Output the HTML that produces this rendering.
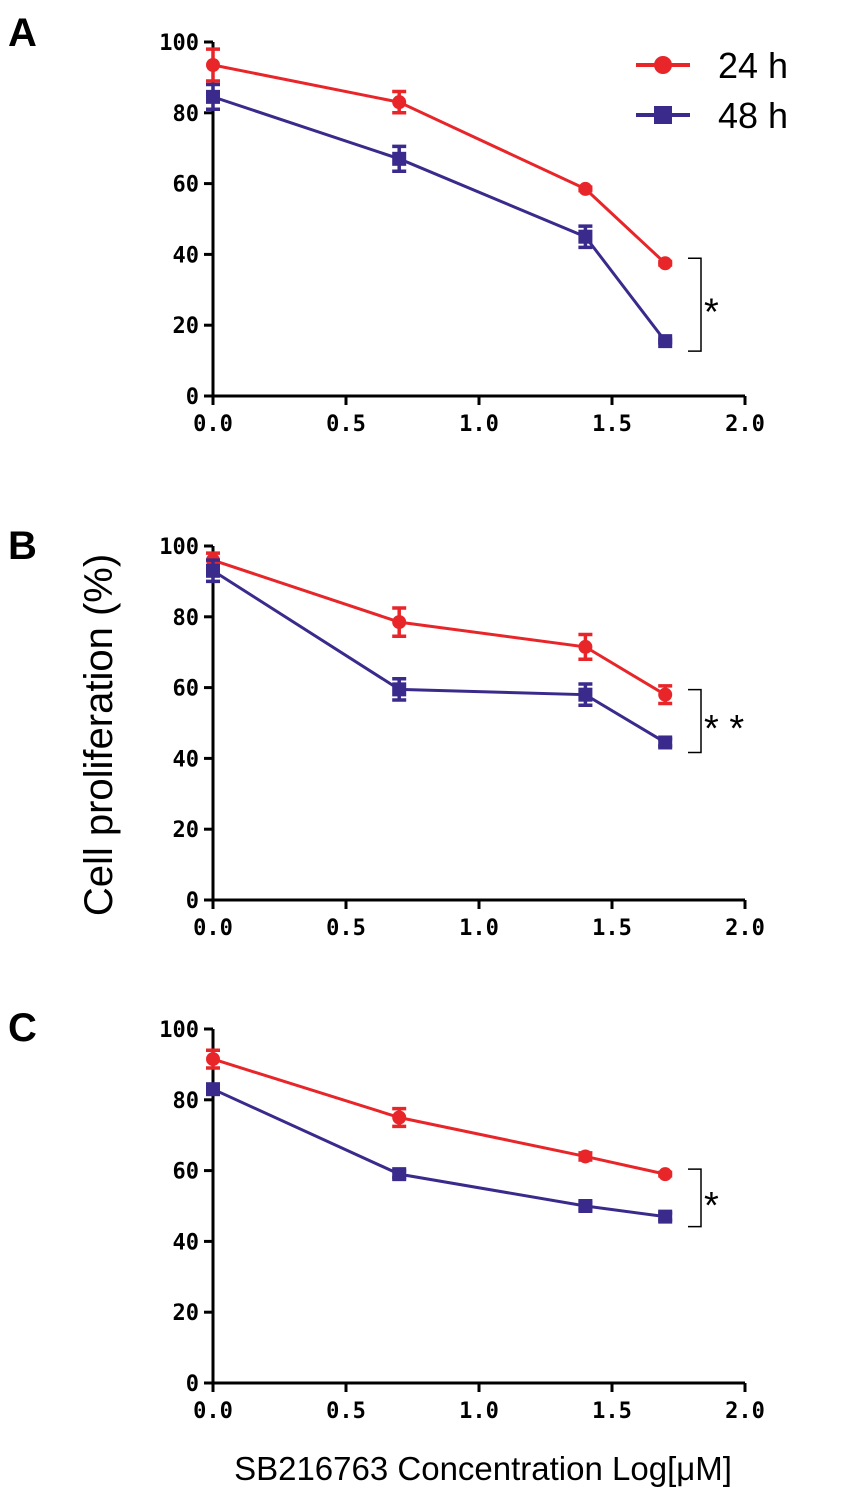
<!DOCTYPE html>
<html><head><meta charset="utf-8"><style>
body{margin:0;background:#fff;}
svg{display:block;font-family:"Liberation Sans",sans-serif;}
</style></head><body>
<svg id="chart" width="850" height="1500" viewBox="0 0 850 1500">
<text x="8" y="46" font-size="40" font-weight="bold">A</text>
<text x="8" y="559" font-size="40" font-weight="bold">B</text>
<text x="8" y="1041" font-size="40" font-weight="bold">C</text>
<text transform="translate(112,735) rotate(-90)" text-anchor="middle" font-size="40">Cell proliferation (%)</text>
<text x="483" y="1480" text-anchor="middle" font-size="33">SB216763 Concentration Log[μM]</text>
<g>
<line x1="636" y1="65" x2="690" y2="65" stroke="#e8262a" stroke-width="4"/>
<circle cx="663" cy="65" r="9" fill="#e8262a"/>
<text x="718" y="78" font-size="36">24 h</text>
<line x1="636" y1="115" x2="690" y2="115" stroke="#3a2a8c" stroke-width="4"/>
<rect x="654" y="106" width="18" height="18" fill="#3a2a8c"/>
<text x="718" y="128" font-size="36">48 h</text>
</g>
</svg>
<script>
const xValues=[0,0.7,1.4,1.7];
const xTicks=["0.0","0.5","1.0","1.5","2.0"];
const yTicks=[0,20,40,60,80,100];
const a24=[93.5,83,58.5,37.5], a24err=[4.5,3,0.5,0.5];
const a48=[84.5,67,45,15.5], a48err=[3.5,3.5,3,0.5];
const b24=[96,78.5,71.5,58], b24err=[2,4,3.5,2.5];
const b48=[93,59.5,58,44.5], b48err=[3,3,3,1];
const c24=[91.5,75,64,59], c24err=[2.5,2.5,1,0.5];
const c48=[83,59,50,47], c48err=[1,1,1,1];
const sigLabels=["*","* *","*"];
const NS="http://www.w3.org/2000/svg";
const svg=document.getElementById('chart');
function mk(tag,attrs,parent){const e=document.createElementNS(NS,tag);for(const k in attrs)e.setAttribute(k,attrs[k]);(parent||svg).appendChild(e);return e;}
const panels=[{key:'a',y0:396,s24:a24,e24:a24err,s48:a48,e48:a48err},
{key:'b',y0:900,s24:b24,e24:b24err,s48:b48,e48:b48err},
{key:'c',y0:1383,s24:c24,e24:c24err,s48:c48,e48:c48err}];
const xL=213,xR=745,H=354;
panels.forEach((p,pi)=>{
const g=mk('g',{});


const X=v=>xL+(v/2)*(xR-xL);
const Y=v=>p.y0-v/100*H;
const ax=mk('path',{d:`M${xL},${Y(100)}V${p.y0}H${xR}`,fill:'none',stroke:'#000','stroke-width':3},g);


yTicks.forEach(t=>{
mk('line',{x1:xL-9,x2:xL,y1:Y(t),y2:Y(t),stroke:'#000','stroke-width':3},g);
const tx=mk('text',{x:xL-14,y:Y(t)+8,'text-anchor':'end','font-size':22,'font-family':'"DejaVu Sans Mono","Liberation Mono",monospace','font-weight':'bold'},g);
tx.textContent=t;


});
xTicks.forEach(t=>{
const v=parseFloat(t);
mk('line',{x1:X(v),x2:X(v),y1:p.y0,y2:p.y0+9,stroke:'#000','stroke-width':3},g);
const tx=mk('text',{x:X(v),y:p.y0+35,'text-anchor':'middle','font-size':22,'font-family':'"DejaVu Sans Mono","Liberation Mono",monospace','font-weight':'bold'},g);
tx.textContent=t;


});
[[p.s24,p.e24,'#e8262a','circle','24h'],[p.s48,p.e48,'#3a2a8c','square','48h']].forEach(([s,e,c,shape,nm])=>{
const ln=mk('polyline',{points:s.map((v,i)=>X(xValues[i])+','+Y(v)).join(' '),fill:'none',stroke:c,'stroke-width':3},g);


s.forEach((v,i)=>{
const x=X(xValues[i]),y=Y(v),eh=e[i]/100*H;
mk('path',{d:`M${x},${y-eh}V${y+eh}M${x-7},${y-eh}H${x+7}M${x-7},${y+eh}H${x+7}`,stroke:c,'stroke-width':3.5,fill:'none'},g);
let m;
if(shape==='circle')m=mk('circle',{cx:x,cy:y,r:7,fill:c},g);
else m=mk('rect',{x:x-7,y:y-7,width:14,height:14,fill:c},g);


});
});
const top=Y(p.s24[3])-5,bot=Y(p.s48[3])+10;
const br=mk('path',{d:`M688,${top}H701V${bot}H688`,fill:'none',stroke:'#000','stroke-width':1.5},g);


const st=mk('text',{x:704,y:(top+bot)/2+20,'font-size':38},g);
st.textContent=sigLabels[pi];


});
</script>
</body></html>
